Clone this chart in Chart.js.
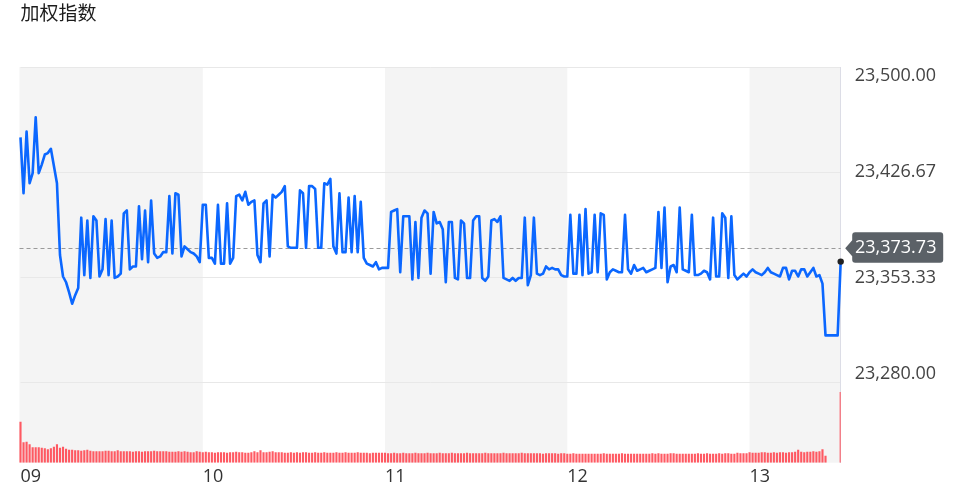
<!DOCTYPE html>
<html>
<head>
<meta charset="utf-8">
<script src="https://cdn.jsdelivr.net/npm/chart.js@4.4.1/dist/chart.umd.min.js"></script>
<style>
html,body{margin:0;padding:0;background:#fff;}
#wrap{width:966px;height:491px;position:relative;}
</style>
</head>
<body>
<div id="wrap"><canvas id="c" width="966" height="491"></canvas></div>
<script>
// ---------- data ----------
const chartTitle = '加权指数';
const hourLabels = ['09', '10', '11', '12', '13'];
const hourTickIndex = [0, 60, 120, 180, 240];
const priceTicks = [23280.00, 23353.33, 23426.67, 23500.00];
const priceMin = 23224.25;
const priceMax = 23500.00;
const prevClose = 23373.73;
const volumeMax = 790;

// one price per minute, 09:00 -> 13:30
const prices = [
  // 09:00
  23451,23412,23455,23419,23426,23465,23426,23432,23439,23440,
  23443,23431,23419,23369,23354,23350,23343,23335,23341,23346,
  23395,23355,23393,23353,23396,23393,23354,23359,23394,23355,
  23393,23353,23354,23356,23398,23400,23359,23361,23361,23403,
  23366,23400,23364,23407,23370,23367,23368,23371,23371,23410,
  23370,23412,23411,23368,23375,23373,23371,23370,23368,23364,
  // 10:00
  23404,23404,23367,23367,23363,23404,23363,23363,23405,23363,
  23367,23410,23411,23407,23413,23404,23406,23407,23369,23364,
  23405,23407,23368,23411,23409,23411,23413,23417,23375,23374,
  23374,23374,23414,23412,23374,23417,23417,23415,23374,23374,
  23419,23418,23422,23375,23370,23412,23371,23371,23409,23371,
  23410,23371,23406,23367,23363,23362,23361,23364,23359,23360,
  // 11:00
  23360,23360,23399,23400,23401,23357,23396,23396,23396,23352,
  23392,23353,23395,23400,23398,23356,23399,23391,23392,23387,
  23350,23392,23392,23353,23352,23393,23391,23353,23353,23393,
  23396,23396,23353,23351,23354,23393,23394,23392,23396,23353,
  23352,23351,23353,23351,23353,23353,23395,23348,23355,23395,
  23356,23355,23356,23361,23359,23360,23359,23359,23355,23354,
  // 12:00
  23354,23397,23356,23356,23397,23355,23401,23356,23357,23397,
  23357,23398,23397,23352,23357,23359,23358,23357,23357,23397,
  23359,23356,23362,23358,23359,23360,23357,23358,23359,23360,
  23399,23360,23402,23350,23361,23362,23357,23402,23359,23358,
  23357,23397,23355,23355,23356,23358,23357,23352,23395,23354,
  23354,23398,23395,23353,23396,23355,23352,23354,23356,23354,
  // 13:00
  23357,23359,23357,23356,23355,23357,23360,23357,23356,23355,
  23354,23360,23360,23352,23358,23358,23354,23359,23359,23354,
  23357,23360,23354,23355,23349,23313,23313,23313,23313,23313,
  23364.4
];

// one volume bar per minute
const volumes = [
  // 09:00
  82,41,42,37,31,31,31,30,29,27,
  29,32,37,30,32,28,26,26,25,25,
  24,25,26,24,23,23,23,23,24,24,
  23,23,25,23,23,23,23,22,23,23,
  22,23,23,23,24,23,23,23,23,22,
  22,22,23,22,23,22,21,21,23,22,
  // 10:00
  21,22,21,21,20,21,21,21,20,21,
  21,22,21,21,20,20,21,23,21,25,
  21,21,22,23,21,21,21,20,20,21,
  20,21,20,21,21,20,20,21,20,20,
  21,20,20,20,21,20,20,21,20,20,
  20,21,20,20,20,19,20,20,20,20,
  // 11:00
  20,19,19,20,19,19,20,19,19,19,
  20,19,19,19,20,19,19,19,20,19,
  19,19,20,19,19,19,19,20,19,19,
  19,19,19,20,19,19,19,19,19,20,
  19,19,19,19,19,20,19,19,19,19,
  19,19,18,19,19,19,19,18,19,19,
  // 12:00
  18,18,19,18,18,18,18,18,18,18,
  18,18,19,18,18,18,18,18,19,18,
  18,18,18,18,18,18,18,18,19,18,
  19,18,18,18,19,19,18,18,18,18,
  18,18,18,19,18,18,19,18,18,18,
  19,18,19,19,18,18,20,19,19,19,
  // 13:00
  21,20,20,20,21,21,20,20,21,20,
  21,21,20,21,21,22,26,22,21,22,
  22,23,22,23,27,14,null,null,null,null,
  141
];

// minute time stamps used as categories
const times = [];
for (let m = 0; m < prices.length; m++) {
  const h = 9 + Math.floor(m / 60), mm = m % 60;
  times.push(String(h).padStart(2, '0') + ':' + String(mm).padStart(2, '0'));
}

const fmt = v => Number(v).toLocaleString('en-US', {minimumFractionDigits: 2, maximumFractionDigits: 2});

// ---------- plugins ----------
const hourBands = {
  id: 'hourBands',
  beforeDraw(chart) {
    const {ctx, chartArea: a, scales: {x}} = chart;
    ctx.save();
    ctx.fillStyle = '#f4f4f4';
    for (let i = 0; i < hourTickIndex.length; i += 2) {
      const s = i === 0 ? a.left - 1 : x.getPixelForValue(hourTickIndex[i]);
      const eIdx = i + 1 < hourTickIndex.length ? hourTickIndex[i + 1] : prices.length - 1;
      const e = x.getPixelForValue(eIdx);
      ctx.fillRect(s, a.top, e - s, a.bottom - a.top);
    }
    ctx.restore();
  }
};

const refLine = {
  id: 'refLine',
  beforeDatasetsDraw(chart) {
    const {ctx, chartArea: a, scales: {y}} = chart;
    const py = Math.round(y.getPixelForValue(prevClose)) + 0.5;
    ctx.save();
    ctx.strokeStyle = '#9a9a9a';
    ctx.lineWidth = 1;
    ctx.setLineDash([4, 3]);
    ctx.beginPath();
    ctx.moveTo(a.left - 1, py);
    ctx.lineTo(a.right, py);
    ctx.stroke();
    ctx.restore();
  },
  afterDraw(chart) {
    const {ctx, chartArea: a, scales: {y}} = chart;
    const py = y.getPixelForValue(prevClose);
    const tip = a.right + 4.5, bx = a.right + 11.5, ex = a.right + 102.5;
    const top = py - 16, bot = py + 14.5, r = 3;
    ctx.save();
    ctx.fillStyle = '#5b6167';
    ctx.beginPath();
    ctx.moveTo(tip, py);
    ctx.lineTo(bx, py - 8);
    ctx.lineTo(bx, top + r);
    ctx.quadraticCurveTo(bx, top, bx + r, top);
    ctx.lineTo(ex - r, top);
    ctx.quadraticCurveTo(ex, top, ex, top + r);
    ctx.lineTo(ex, bot - r);
    ctx.quadraticCurveTo(ex, bot, ex - r, bot);
    ctx.lineTo(bx + r, bot);
    ctx.quadraticCurveTo(bx, bot, bx, bot - r);
    ctx.lineTo(bx, py + 8);
    ctx.closePath();
    ctx.fill();
    ctx.fillStyle = '#ffffff';
    ctx.font = '18px "Open Sans"';
    ctx.textBaseline = 'middle';
    ctx.textAlign = 'left';
    ctx.fillText(fmt(prevClose), a.right + 14.3, py);
    ctx.restore();
  }
};

// ---------- chart ----------
new Chart(document.getElementById('c'), {
  type: 'bar',
  data: {
    labels: times,
    datasets: [
      {
        type: 'line',
        data: prices,
        yAxisID: 'y',
        borderColor: '#0b67ff',
        borderWidth: 2.6,
        borderJoinStyle: 'round',
        tension: 0,
        pointRadius: ctx => ctx.dataIndex === prices.length - 1 ? 3.2 : 0,
        pointBackgroundColor: '#222222',
        pointBorderWidth: 0,
        clip: false,
        order: 0
      },
      {
        type: 'bar',
        data: volumes,
        yAxisID: 'vol',
        backgroundColor: 'rgba(255,72,82,0.9)',
        barPercentage: 0.7,
        categoryPercentage: 1,
        clip: {left: 2, right: 0, top: 0, bottom: 0},
        order: 1
      }
    ]
  },
  options: {
    responsive: false,
    animation: false,
    layout: {padding: {left: 20.5, right: 0, top: 0, bottom: 0}},
    plugins: {
      legend: {display: false},
      tooltip: {enabled: false},
      title: {
        display: true,
        text: chartTitle,
        align: 'start',
        color: '#1c1c1c',
        font: {family: '"Noto Sans CJK SC"', size: 19, weight: 'normal', lineHeight: 1.2},
        padding: {top: 1.5, bottom: 42.7}
      }
    },
    scales: {
      x: {
        type: 'category',
        offset: false,
        grid: {display: false, drawTicks: false},
        border: {display: false},
        ticks: {
          autoSkip: false,
          maxRotation: 0,
          align: 'start',
          padding: 3,
          color: '#333333',
          font: {family: '"Open Sans"', size: 18},
          callback: v => hourLabels[hourTickIndex.indexOf(v)]
        },
        afterBuildTicks: s => { s.ticks = hourTickIndex.map(v => ({value: v})); },
        afterFit: s => { s.height = 28.3; }
      },
      y: {
        type: 'linear',
        position: 'right',
        min: priceMin,
        max: priceMax,
        grid: {color: '#e8e8e8', drawTicks: false},
        border: {display: true, color: '#dcdde6'},
        ticks: {
          padding: 14,
          color: '#444444',
          font: {family: '"Open Sans"', size: 18, lineHeight: 1},
          callback: v => {
            if (v === priceMax) return ['', fmt(v)];
            if (v === priceTicks[0]) return [fmt(v), ''];
            return fmt(v);
          }
        },
        afterBuildTicks: s => { s.ticks = priceTicks.map(v => ({value: v})); },
        afterFit: s => {
          s.width = 966 - 840.7;
          s.paddingTop = 0;
          s.paddingBottom = 0;
        }
      },
      vol: {
        type: 'linear',
        axis: 'y',
        display: false,
        min: 0,
        max: volumeMax
      }
    }
  },
  plugins: [hourBands, refLine]
});
</script>
</body>
</html>
